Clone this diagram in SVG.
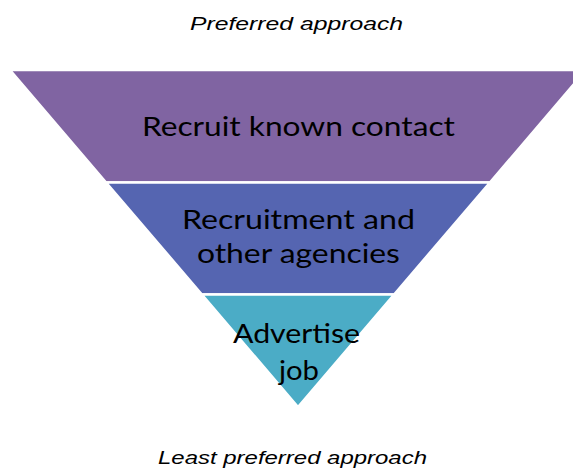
<svg xmlns="http://www.w3.org/2000/svg" width="573" height="469" viewBox="0 0 573 469">
<style>
.band{stroke:#ffffff;stroke-width:2.5;stroke-linejoin:miter}
.lbl{font-family:Lato,"Open Sans",sans-serif;font-size:27.5px;fill:#000000;text-anchor:middle}
.cap{font-family:"Liberation Sans",Arial,sans-serif;font-style:italic;font-size:18.5px;fill:#000000;text-anchor:middle}
</style>
<rect width="573" height="469" fill="#ffffff"/>
<text class="cap" x="296.5" y="30" textLength="213" lengthAdjust="spacingAndGlyphs">Preferred approach</text>
<g id="band-known-contact">
<polygon class="band" fill="#8064A2" points="10,70 586,70 489.9,182.5 106.1,182.5"/>
<text class="lbl" x="298.4" y="136" textLength="313" lengthAdjust="spacingAndGlyphs">Recruit known contact</text>
</g>
<g id="band-agencies">
<polygon class="band" fill="#5565B1" points="106.1,182.5 489.9,182.5 394.1,294.5 201.9,294.5"/>
<text class="lbl" x="298.4" y="229" textLength="233" lengthAdjust="spacingAndGlyphs">Recruitment and</text>
<text class="lbl" x="298.4" y="262.5" textLength="203" lengthAdjust="spacingAndGlyphs">other agencies</text>
</g>
<g id="band-advertise">
<polygon class="band" fill="#4BACC6" points="201.9,294.5 394.1,294.5 298,407"/>
<text class="lbl" x="296.5" y="343" textLength="127" lengthAdjust="spacingAndGlyphs">Advertise</text>
<text class="lbl" x="299" y="380" textLength="40" lengthAdjust="spacingAndGlyphs">job</text>
</g>
<g id="connectors"/>
<text class="cap" x="292.5" y="464" textLength="269" lengthAdjust="spacingAndGlyphs">Least preferred approach</text>
</svg>
